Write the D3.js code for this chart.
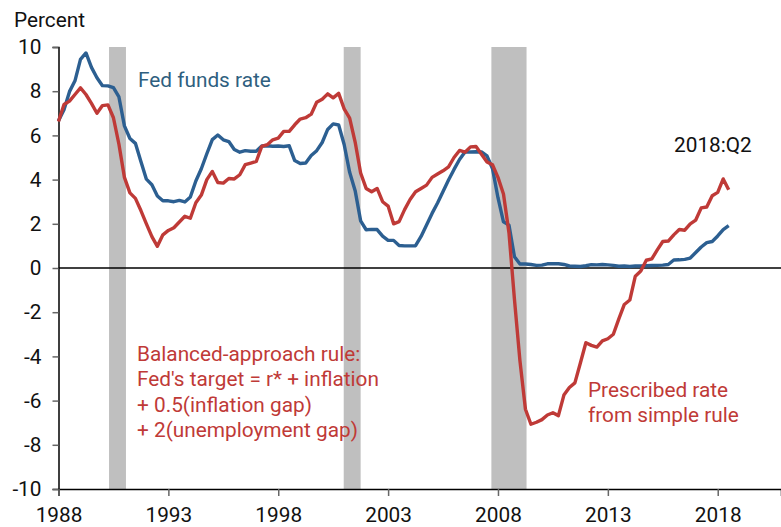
<!DOCTYPE html>
<html>
<head>
<meta charset="utf-8">
<script src="https://cdn.jsdelivr.net/npm/d3@7"></script>
<style>
  html, body { margin: 0; padding: 0; background: #fff; }
  svg { display: block; font-family: Roboto, "Noto Sans", sans-serif; }
</style>
</head>
<body>
<svg id="chart" width="781" height="527"></svg>
<script>
// ---- Data ----
const startYear = 1988; // first quarter: 1988:Q1, quarterly through 2018
const fedFunds = [
  6.66, 7.16, 7.98, 8.47,
  9.44, 9.73, 9.08, 8.61,
  8.25, 8.24, 8.16, 7.74,
  6.43, 5.86, 5.64, 4.82,
  4.02, 3.77, 3.26, 3.04,
  3.04, 3.00, 3.06, 2.99,
  3.21, 3.94, 4.49, 5.17,
  5.81, 6.02, 5.80, 5.72,
  5.36, 5.24, 5.31, 5.28,
  5.28, 5.52, 5.53, 5.51,
  5.52, 5.50, 5.53, 4.86,
  4.73, 4.75, 5.09, 5.31,
  5.68, 6.27, 6.52, 6.47,
  5.59, 4.33, 3.50, 2.13,
  1.73, 1.75, 1.74, 1.44,
  1.25, 1.25, 1.02, 1.00,
  1.00, 1.01, 1.43, 1.95,
  2.47, 2.94, 3.46, 3.98,
  4.46, 4.91, 5.25, 5.25,
  5.26, 5.25, 5.07, 4.50,
  3.18, 2.09, 1.94, 0.51,
  0.18, 0.18, 0.16, 0.12,
  0.13, 0.19, 0.19, 0.19,
  0.16, 0.09, 0.08, 0.07,
  0.10, 0.15, 0.14, 0.16,
  0.14, 0.12, 0.08, 0.09,
  0.07, 0.09, 0.09, 0.10,
  0.11, 0.12, 0.13, 0.16,
  0.36, 0.37, 0.39, 0.45,
  0.70, 0.95, 1.15, 1.20,
  1.45, 1.74, 1.92
];
const ruleRate = [
  6.63, 7.40, 7.55, 7.85,
  8.15, 7.85, 7.45, 7.00,
  7.35, 7.38, 6.80, 5.60,
  4.10, 3.40, 3.15, 2.60,
  2.00, 1.42, 0.98, 1.50,
  1.70, 1.82, 2.08, 2.34,
  2.25, 2.95, 3.30, 4.00,
  4.37, 3.87, 3.84, 4.05,
  4.03, 4.22, 4.68, 4.75,
  4.82, 5.50, 5.58, 5.80,
  5.88, 6.18, 6.18, 6.48,
  6.74, 6.80, 6.96, 7.50,
  7.64, 7.88, 7.70, 7.90,
  7.20, 6.78, 5.70, 4.30,
  3.60, 3.45, 3.60, 3.00,
  2.80, 2.00, 2.10, 2.64,
  3.10, 3.45, 3.60, 3.75,
  4.10, 4.25, 4.40, 4.58,
  5.00, 5.32, 5.24, 5.48,
  5.50, 5.15, 4.80, 4.67,
  4.10, 3.35, 1.60, -1.42,
  -4.20, -6.39, -7.07, -6.98,
  -6.86, -6.65, -6.55, -6.68,
  -5.75, -5.41, -5.20, -4.30,
  -3.38, -3.50, -3.58, -3.30,
  -3.20, -3.00, -2.30, -1.65,
  -1.45, -0.37, -0.14, 0.35,
  0.41, 0.82, 1.20, 1.22,
  1.50, 1.74, 1.71, 2.00,
  2.17, 2.72, 2.76, 3.27,
  3.42, 4.03, 3.54
];
const recessionStart = [1990.30, 2000.98, 2007.70];
const recessionEnd   = [1991.07, 2001.75, 2009.30];
const xTickValues = [1988, 1993, 1998, 2003, 2008, 2013, 2018];
const yTickValues = [-10, -8, -6, -4, -2, 0, 2, 4, 6, 8, 10];
const annotationRule = ["Balanced-approach rule:", "Fed's target = r* + inflation", "+ 0.5(inflation gap)", "+ 2(unemployment gap)"];
const annotationPrescribed = ["Prescribed rate", "from simple rule"];

// ---- Layout ----
const svg = d3.select("#chart");
const x = d3.scaleLinear().domain([1988, 2020.88]).range([58.5, 781]);
const y = d3.scaleLinear().domain([-10, 10]).range([489, 47]);
const t = i => startYear + i / 4;

const red = "#bf3a37";
const blue = "#2c5f91";
const fs = 20.8;

// recession bars
svg.append("g").selectAll("rect")
  .data(recessionStart.map((s, i) => [s, recessionEnd[i]]))
  .join("rect")
  .attr("x", d => x(d[0]))
  .attr("width", d => x(d[1]) - x(d[0]))
  .attr("y", y(10))
  .attr("height", y(-10) - y(10))
  .attr("fill", "#bfbfbf");

// zero line
svg.append("line")
  .attr("x1", x(1988)).attr("x2", 781)
  .attr("y1", y(0)).attr("y2", y(0))
  .attr("stroke", "#000").attr("stroke-width", 1.6);

// axes
const yAxis = d3.axisLeft(y).tickValues(yTickValues).tickSize(6).tickPadding(11).tickFormat(d => String(d));
const gy = svg.append("g").attr("transform", `translate(${x(1988)},0)`).call(yAxis);
gy.select(".domain").attr("stroke", "#000").attr("stroke-width", 1.5);
gy.selectAll(".tick line").attr("stroke", "#666").attr("stroke-width", 1.5);
gy.selectAll(".tick text").attr("font-size", fs).attr("fill", "#111").attr("font-family", "Roboto");

const xAxis = d3.axisBottom(x).tickValues(xTickValues).tickSize(7).tickPadding(11).tickFormat(d => String(d));
const gx = svg.append("g").attr("transform", `translate(0,${y(-10)})`).call(xAxis);
gx.select(".domain").attr("stroke", "#000").attr("stroke-width", 1.5);
gx.selectAll(".tick line").attr("stroke", "#666").attr("stroke-width", 1.5);
gx.selectAll(".tick text").attr("font-size", fs).attr("fill", "#111").attr("font-family", "Roboto");

// lines
const line = d3.line().x((d, i) => x(t(i))).y(d => y(d));
svg.append("path").datum(fedFunds)
  .attr("d", line).attr("fill", "none")
  .attr("stroke", blue).attr("stroke-width", 3.4).attr("stroke-linejoin", "round");
svg.append("path").datum(ruleRate)
  .attr("d", line).attr("fill", "none")
  .attr("stroke", red).attr("stroke-width", 3.4).attr("stroke-linejoin", "round");

// texts
svg.append("text").attr("x", 14).attr("y", 27).attr("font-size", fs).attr("fill", "#111").text("Percent");
svg.append("text").attr("x", 138).attr("y", 87).attr("font-size", fs).attr("fill", "#2f5f7f").text("Fed funds rate");
svg.append("text").attr("x", 674).attr("y", 152).attr("font-size", fs).attr("fill", "#111").text("2018:Q2");

svg.append("g").selectAll("text").data(annotationRule).join("text")
  .attr("x", 137).attr("y", (d, i) => 361 + i * 25.3)
  .attr("font-size", fs).attr("fill", red).text(d => d);
svg.append("g").selectAll("text").data(annotationPrescribed).join("text")
  .attr("x", 588).attr("y", (d, i) => 397 + i * 25)
  .attr("font-size", fs).attr("fill", red).text(d => d);
</script>
</body>
</html>
